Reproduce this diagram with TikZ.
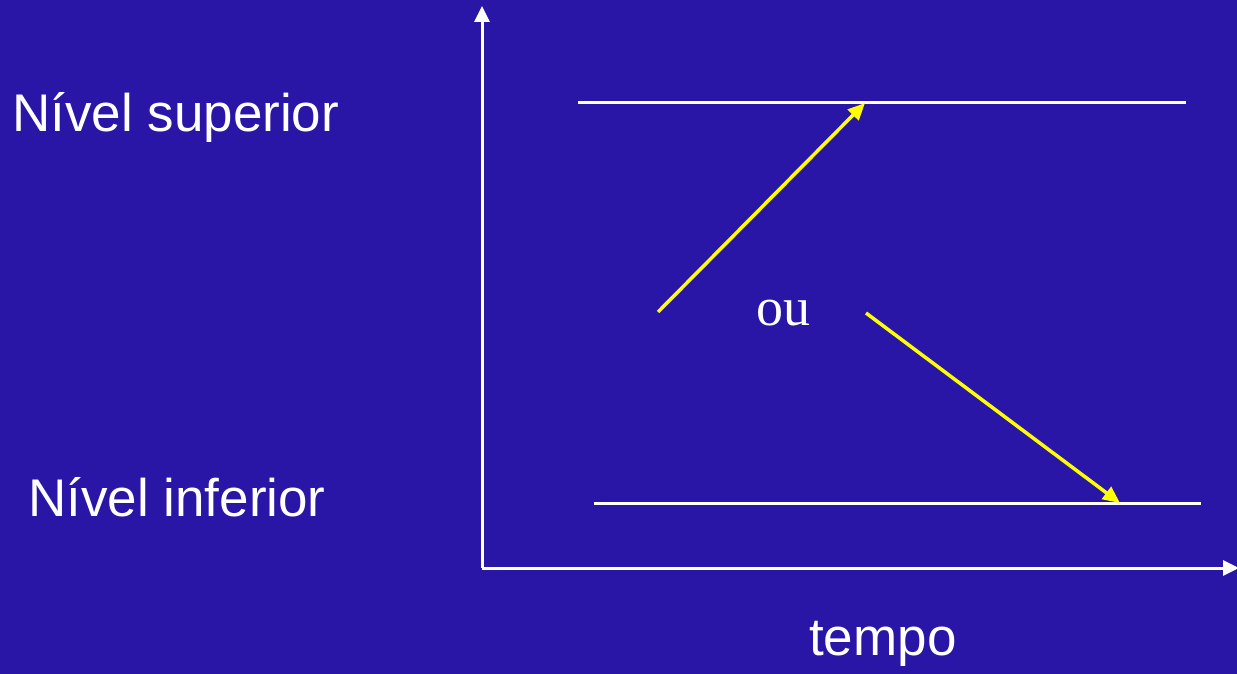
\documentclass[tikz,border=0pt]{standalone}
\usepackage{fontspec}
\setmainfont{Liberation Serif}
\setsansfont{Liberation Sans}
\usetikzlibrary{arrows.meta}
\definecolor{slidebg}{RGB}{41,22,167}
\definecolor{arrowyellow}{RGB}{255,255,0}

\begin{document}
\begin{tikzpicture}[
    x=1pt, y=-1pt,
    axis/.style={draw=white, line width=3pt, -{Triangle[length=16pt, width=15pt]}},
    level/.style={draw=white, line width=3pt},
    move/.style={draw=arrowyellow, line width=3.5pt, -{Triangle[length=17pt, width=15pt]}},
    lbl/.style={text=white, inner sep=0pt, font=\sffamily\fontsize{53}{60}\selectfont},
    word/.style={text=white, inner sep=0pt, font=\rmfamily\fontsize{54}{60}\selectfont}
]
\fill[slidebg] (0,0) rectangle (1237,674);
\useasboundingbox (0,0) rectangle (1237,674);

% eixos
\coordinate (origin) at (482,568);
\coordinate (ytop) at (482,6);
\coordinate (xend) at (1239,568);
\draw[axis] (origin) -- (ytop);
\draw[axis] (origin) -- (xend);

% niveis
\coordinate (sup-l) at (578,103);
\coordinate (sup-r) at (1186,103);
\coordinate (inf-l) at (594,503);
\coordinate (inf-r) at (1201,503);
\draw[level] (sup-l) -- (sup-r);
\draw[level] (inf-l) -- (inf-r);

% transicoes
\coordinate (up-a) at (658,312);
\coordinate (up-b) at (865,103);
\coordinate (down-a) at (866,313);
\coordinate (down-b) at (1120,503);
\draw[move] (up-a) -- (up-b);
\draw[move] (down-a) -- (down-b);

\node[lbl, anchor=base west] (sup) at (12,132) {Nível superior};
\node[lbl, anchor=base west] (inf) at (28,516) {Nível inferior};
\node[word, anchor=base west] (ou) at (756,325) {ou};
\node[lbl, anchor=base west] (tempo) at (809,655) {tempo};
\end{tikzpicture}
\end{document}
